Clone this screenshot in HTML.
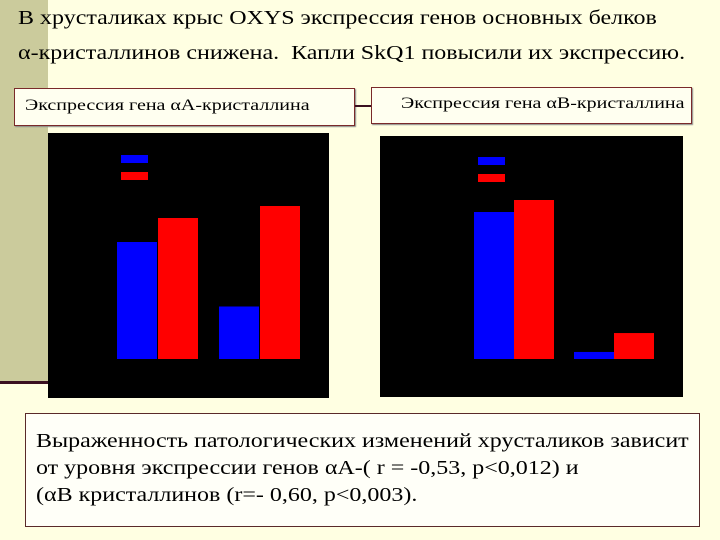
<!DOCTYPE html>
<html><head><meta charset="utf-8"><style>
body{margin:0;width:720px;height:540px;background:#ffffe2;position:relative;overflow:hidden;font-family:"Liberation Serif",serif}
.abs{position:absolute}
.sx{display:inline-block;transform-origin:0 0;white-space:nowrap}
</style></head><body>
<div class="abs" style="left:0;top:0;width:48px;height:383px;background:#cbcb9c"></div>
<div class="abs" style="left:0;top:381px;width:50px;height:3px;background:#3a1020"></div>
<div class="abs sx" style="left:18px;top:1px;font-size:20px;line-height:35px;color:#000;transform:scaleX(1.2)">В хрусталиках крыс OXYS экспрессия генов основных белков<br>α-кристаллинов снижена.&nbsp; Капли SkQ1 повысили их экспрессию.</div>
<div class="abs" style="left:14px;top:88px;width:341px;height:38px;border:1px solid #7a2a2a;background:#fffff0;box-shadow:1px 1px 1px #888;box-sizing:border-box;font-size:16px;line-height:34px;padding-left:10px"><span class="sx" style="transform:scaleX(1.25)">Экспрессия гена αА-кристаллина</span></div>
<div class="abs" style="left:355px;top:105px;width:16px;height:2px;background:#3a1020"></div>
<div class="abs" style="left:371px;top:87px;width:321px;height:37px;border:1px solid #7a2a2a;background:#fffff0;box-shadow:1px 1px 1px #888;box-sizing:border-box;font-size:16px;line-height:32px;padding-left:29px"><span class="sx" style="transform:scaleX(1.25)">Экспрессия гена αВ-кристаллина</span></div>
<svg class="abs" style="left:0;top:0" width="720" height="540">
<rect x="48" y="133" width="281" height="265" fill="#000"/>
<rect x="380" y="136" width="303" height="261" fill="#000"/>
<rect x="121" y="155" width="27" height="8" fill="#0000ff"/>
<rect x="121" y="172" width="27" height="8" fill="#ff0000"/>
<rect x="478" y="157" width="27" height="8" fill="#0000ff"/>
<rect x="478" y="174" width="27" height="8" fill="#ff0000"/>
<g id="bars"></g>
</svg>
<div class="abs" style="left:25px;top:413px;width:675px;height:114px;border:1px solid #5a2a2a;background:#fffff8;box-sizing:border-box;padding:14px 0 0 10px;font-size:20px;line-height:27px"><span class="sx" style="transform:scaleX(1.2)">Выраженность патологических изменений хрусталиков зависит<br>от уровня экспрессии генов αА-( r = -0,53, p&lt;0,012) и<br>(αВ кристаллинов (r=- 0,60, p&lt;0,003).</span></div>
<script>
const groupsA = ["control","oxys"];
const blueA = [78, 35];
const redA = [94, 102];
const blueB = [98, 4.7];
const redB = [106, 17.3];
const K = 1.5, BASE = 359;
function y(v){return BASE - v*K;}
const g = document.getElementById('bars');
function bar(x,v,c,name){
  const r=document.createElementNS('http://www.w3.org/2000/svg','rect');
  r.setAttribute('x',x);r.setAttribute('y',y(v));r.setAttribute('width',40);r.setAttribute('height',BASE-y(v));r.setAttribute('fill',c);
  
  
  g.appendChild(r);
}
const xA=[117,219], xB=[474,574];
groupsA.forEach((_,i)=>{
  bar(xA[i],blueA[i],'#0000ff','bar-a-blue-'+i);
  bar(xA[i]+41,redA[i],'#ff0000','bar-a-red-'+i);
  bar(xB[i],blueB[i],'#0000ff','bar-b-blue-'+i);
  bar(xB[i]+40,redB[i],'#ff0000','bar-b-red-'+i);
});
</script>
</body></html>
